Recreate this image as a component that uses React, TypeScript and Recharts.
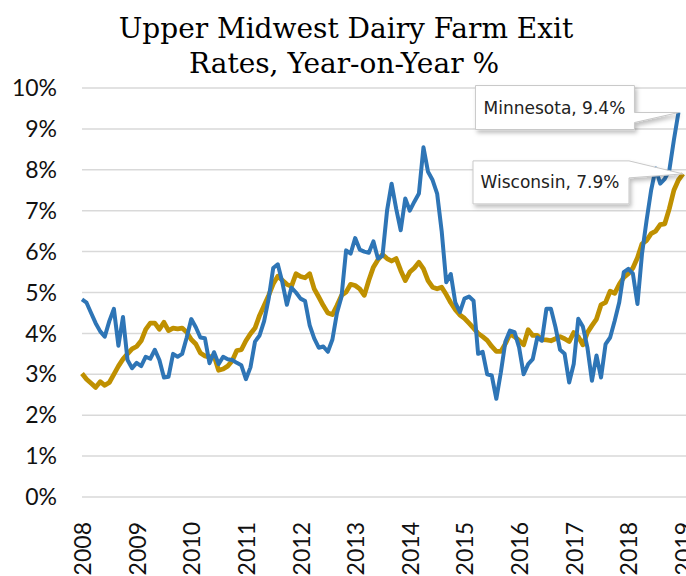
import React from 'react';
import { LineChart, Line, XAxis, YAxis, CartesianGrid } from 'recharts';

// tick labels
const yearLabels = ['2008', '2009', '2010', '2011', '2012', '2013', '2014', '2015', '2016', '2017', '2018', '2019'];
const yTicks = [0, 1, 2, 3, 4, 5, 6, 7, 8, 9, 10];

// monthly YoY exit rate (%), Jan 2008 onward
const minnesota = [
  4.83, 4.75, 4.5, 4.25, 4.05, 3.92, 4.3, 4.6, 3.7, 4.4, 3.35, 3.15,
  3.28, 3.2, 3.43, 3.38, 3.6, 3.35, 2.92, 2.94, 3.5, 3.43, 3.5, 3.9,
  4.35, 4.15, 3.9, 3.88, 3.27, 3.54, 3.25, 3.43, 3.37, 3.35, 3.28, 3.22,
  2.88, 3.17, 3.8, 3.95, 4.3, 4.85, 5.6, 5.69, 5.25, 4.7, 5.12, 5.0,
  4.85, 4.79, 4.2, 3.88, 3.65, 3.68, 3.55, 3.85, 4.5, 4.9, 6.03, 5.95,
  6.33, 6.05, 6.0, 5.97, 6.25, 5.83, 5.9, 7.0, 7.66, 7.05, 6.52, 7.3,
  7.0, 7.22, 7.42, 8.55, 7.95, 7.75, 7.42, 6.5, 5.25, 5.45, 4.75, 4.52,
  4.85, 4.9, 4.8, 3.5, 3.55, 3.0, 2.97, 2.4, 3.05, 3.8, 4.07, 4.03,
  3.66, 3.0, 3.25, 3.37, 3.9, 3.82, 4.6, 4.6, 4.15, 3.6, 3.5, 2.8,
  3.25, 4.36, 4.17, 3.66, 2.84, 3.46, 2.92, 3.74, 3.9, 4.31, 4.76, 5.5,
  5.58, 5.46, 4.72, 5.95, 6.76, 7.5, 8.03, 7.66, 7.78, 7.99, 8.73, 9.4,
];

const wisconsin = [
  3.02, 2.88, 2.78, 2.68, 2.82, 2.73, 2.8, 3.0, 3.2, 3.37, 3.5, 3.62,
  3.68, 3.82, 4.1, 4.25, 4.25, 4.1, 4.27, 4.07, 4.13, 4.11, 4.13, 4.03,
  3.85, 3.74, 3.52, 3.45, 3.42, 3.45, 3.1, 3.13, 3.2, 3.33, 3.58, 3.6,
  3.82, 3.99, 4.13, 4.44, 4.68, 4.93, 5.21, 5.4, 5.3, 5.2, 5.15, 5.46,
  5.39, 5.36, 5.46, 5.09, 4.89, 4.68, 4.5, 4.46, 4.68, 4.93, 5.01, 5.2,
  5.17, 5.09, 4.93, 5.3, 5.62, 5.8, 5.93, 5.83, 5.77, 5.83, 5.54, 5.29,
  5.5, 5.6, 5.74, 5.58, 5.29, 5.13, 5.09, 5.13, 4.95, 4.75, 4.58, 4.45,
  4.37, 4.25, 4.13, 4.0, 3.92, 3.83, 3.68, 3.56, 3.56, 3.75, 3.98, 3.92,
  3.83, 3.72, 4.09, 3.95, 3.95, 3.85, 3.84, 3.82, 3.87, 3.92, 3.87, 3.8,
  4.02, 3.92, 3.72, 4.02, 4.19, 4.35, 4.7, 4.76, 5.03, 4.98, 5.2, 5.37,
  5.46, 5.6, 5.85, 6.19, 6.27, 6.44, 6.5, 6.66, 6.68, 7.05, 7.5, 7.75,
  7.9,
];

const data = wisconsin.map((w, i) => ({
  m: i,
  wi: w,
  mn: i < minnesota.length ? minnesota[i] : null,
}));

const BLUE = '#2E75B6';
const GOLD = '#BF9000';
const tickFont = 'Lato, "DejaVu Sans", sans-serif';

const YearTick = ({ x, y, payload }: any) => (
  <text
    transform={`translate(${x},${y + 19}) rotate(-90)`}
    textAnchor="end"
    dominantBaseline="central"
    fontFamily={tickFont}
    fontSize={23}
    fill="#111"
  >
    {yearLabels[Math.round(payload.value / 12)]}
  </text>
);

// callout box with a wedge pointing at the last point
const Callout = ({ id, px, py, left, top, right, bottom, w1, w2, text, tx, ty }: any) => {
  const d = `M${px + left},${py + top} L${px + right},${py + top} L${px + right},${py + w1} L${px},${py} L${px + right},${py + w2} L${px + right},${py + bottom} L${px + left},${py + bottom} Z`;
  return (
    <g>
      <defs>
        <filter id={id} x="-20%" y="-30%" width="140%" height="170%">
          <feDropShadow dx="2" dy="3" stdDeviation="2" floodColor="#000" floodOpacity="0.25" />
        </filter>
      </defs>
      <path d={d} fill="#fff" stroke="#c8c8c8" strokeWidth={1} filter={`url(#${id})`} />
      <text x={px + tx} y={py + ty} textAnchor="middle" fontFamily='"DejaVu Sans", sans-serif' fontSize={17} fill="#222">
        {text}
      </text>
    </g>
  );
};

const App = () => {
  return (
    <div style={{ position: 'fixed', left: 0, top: 0, width: 686, height: 576, overflow: 'hidden', background: '#fff' }}>
      <svg width={686} height={90} style={{ position: 'absolute', left: 0, top: 0 }}>
        <text x={346} y={38} textAnchor="middle" fontFamily='"DejaVu Serif", serif' fontSize={28} fill="#000">
          Upper Midwest Dairy Farm Exit
        </text>
        <text x={344} y={73} textAnchor="middle" fontFamily='"DejaVu Serif", serif' fontSize={28} fill="#000">
          Rates, Year-on-Year %
        </text>
      </svg>
      <div style={{ position: 'absolute', left: 0, top: 0 }}>
        <LineChart width={686} height={576} data={data} margin={{ top: 88, right: 0, bottom: 0, left: 0 }}>
          <CartesianGrid vertical={false} stroke="#d9d9d9" strokeWidth={1.5} />
          <XAxis
            dataKey="m"
            type="number"
            domain={[0, 132.66]}
            ticks={[0, 12, 24, 36, 48, 60, 72, 84, 96, 108, 120, 132]}
            tick={<YearTick />}
            tickLine={false}
            axisLine={false}
            tickMargin={0}
            height={79}
            interval={0}
          />
          <YAxis
            domain={[0, 10]}
            ticks={yTicks}
            tickFormatter={(v: number) => `${v}%`}
            axisLine={false}
            tickLine={false}
            tickMargin={19}
            width={82}
            interval={0}
            tick={{ fontFamily: tickFont, fontSize: 23, fill: '#111' }}
          />
          <Line
            dataKey="wi"
            type="linear"
            stroke={GOLD}
            strokeWidth={4.75}
            dot={false}
            strokeLinejoin="round"
            isAnimationActive={false}
            label={(p: any) =>
              p.index === wisconsin.length - 1 ? (
                <Callout
                  id="shWi"
                  px={p.x}
                  py={p.y}
                  left={-210}
                  top={-13}
                  right={-54}
                  bottom={30}
                  w1={-13}
                  w2={4}
                  text="Wisconsin, 7.9%"
                  tx={-133}
                  ty={14}
                />
              ) : null
            }
          />
          <Line
            dataKey="mn"
            type="linear"
            stroke={BLUE}
            strokeWidth={4}
            dot={false}
            strokeLinejoin="round"
            isAnimationActive={false}
            label={(p: any) =>
              p.index === minnesota.length - 1 ? (
                <Callout
                  id="shMn"
                  px={p.x}
                  py={p.y}
                  left={-203}
                  top={-27}
                  right={-44}
                  bottom={17}
                  w1={0}
                  w2={10}
                  text="Minnesota, 9.4%"
                  tx={-124}
                  ty={1}
                />
              ) : null
            }
          />
        </LineChart>
      </div>
    </div>
  );
};

export default App;
